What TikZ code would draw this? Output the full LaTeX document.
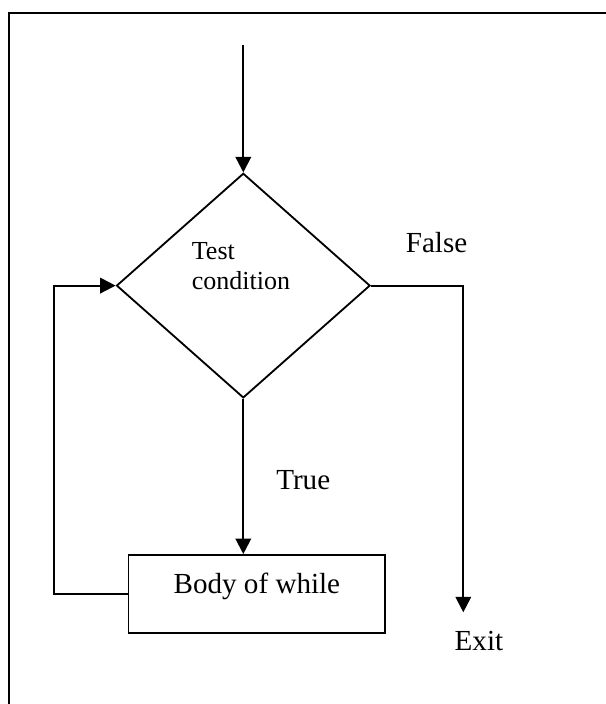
\documentclass[tikz,border=0pt]{standalone}
\usepackage{fontspec}
\setmainfont{Liberation Serif}
\usetikzlibrary{arrows.meta,shapes.geometric}

\begin{document}
\begin{tikzpicture}[every node/.style={inner sep=0pt},
	decision/.style={diamond, draw, line width=1.3pt, minimum width=6.34cm, minimum height=5.615cm},
	block/.style={rectangle, draw, line width=1.3pt, minimum width=6.42cm, minimum height=1.95cm,
	              text height=0.6cm, text depth=0.6cm, font=\fontsize{20.7}{24}\selectfont},
	lbl/.style={anchor=base west, font=\fontsize{20.7}{24}\selectfont},
	flow/.style={line width=1.5pt, -{Triangle[length=11pt,width=11pt]}}]

	\useasboundingbox (0,0) rectangle (15.15,17.6);
	\draw[line width=1.5pt] (0.225,0) -- (0.225,17.275) -- (15.15,17.275);

	\coordinate (start)  at (6.0825,16.475);
	\coordinate (exitpt) at (11.5825,2.2925);
	\node[decision] (cond) at (6.0825,10.46) {};
	\node[align=left, anchor=west, font=\fontsize{18.5}{21.3}\selectfont] (condtext) at (4.79,10.95) {Test\\condition};
	\node[block] (body) at (6.4225,2.75) {Body of while};
	\node[lbl] (false) at (10.14,11.28)  {False};
	\node[lbl] (true)  at (6.9,5.3675)   {True};
	\node[lbl] (exit)  at (11.36,1.3325) {Exit};

	\draw[flow] (start) -- (cond.north);
	\draw[flow] (cond.south) -- (cond.south |- body.north);
	\draw[flow] (cond.east) -| (exitpt);
	\draw[flow] (body.west) -- ++(left:1.8375) |- (cond.west);
\end{tikzpicture}
\end{document}
